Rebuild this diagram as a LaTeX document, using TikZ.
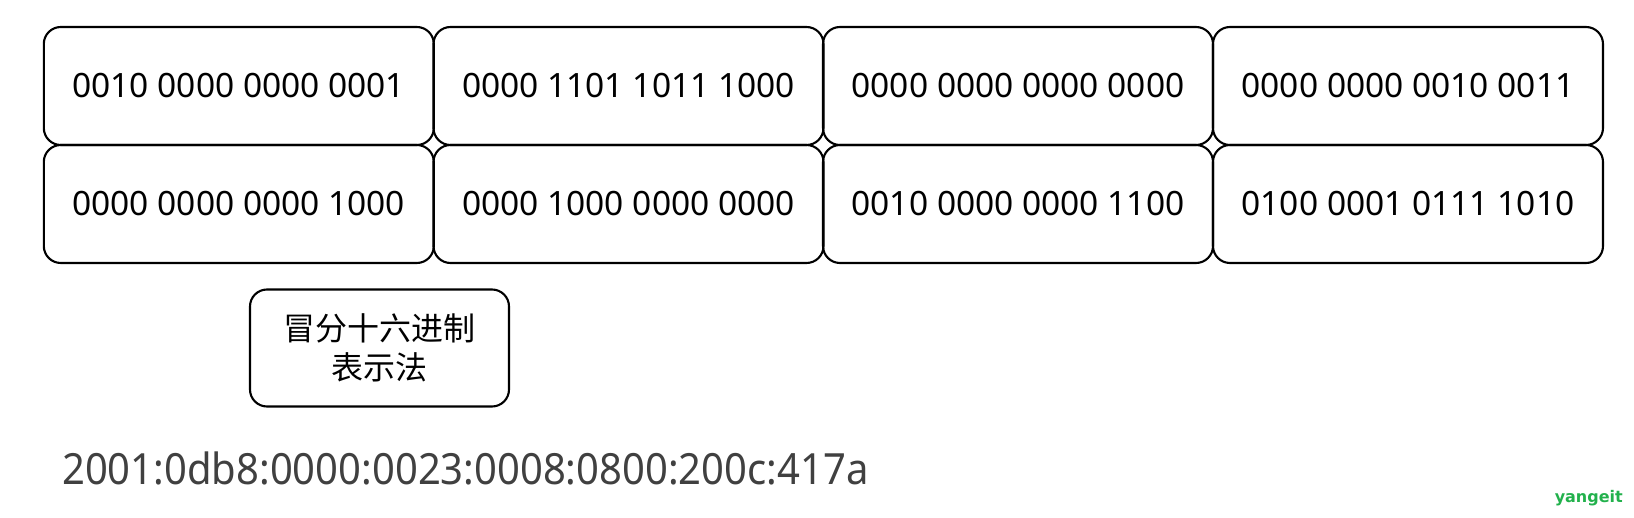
\documentclass[tikz,border=0pt]{standalone}
\usepackage{xcolor}
\usepackage{fontspec}
\setmainfont{Noto Sans}
\newfontfamily\cjkfont{Noto Sans CJK SC}
\newfontfamily\narrowfont[FakeStretch=0.93]{Noto Sans}
\newfontfamily\markfont{DejaVu Sans}
\definecolor{addrgray}{RGB}{64,64,64}
\definecolor{markgreen}{RGB}{34,177,76}

\begin{document}
\begin{tikzpicture}[x=1pt, y=-1pt]
    \tikzstyle{word} = [rectangle, rounded corners=17pt, minimum width=390pt, minimum height=118pt, inner sep=0pt, text centered, draw=black, line width=2.1pt, font=\fontsize{33.5}{40}\selectfont]
    \tikzstyle{label} = [rectangle, rounded corners=17pt, minimum width=259pt, minimum height=117pt, inner sep=0pt, align=center, draw=black, line width=2.1pt, font=\cjkfont\fontsize{32}{39}\selectfont]

    \useasboundingbox (0,0) rectangle (1634,518);

    % First row of 16-bit words
    \node [word] (w1) at (238.8,86) {0010 0000 0000 0001};
    \node [word] (w2) at (628.5,86) {0000 1101 1011 1000};
    \node [word] (w3) at (1018,86) {0000 0000 0000 0000};
    \node [word] (w4) at (1408,86) {0000 0000 0010 0011};

    % Second row of 16-bit words
    \node [word] (w5) at (238.8,204) {0000 0000 0000 1000};
    \node [word] (w6) at (628.5,204) {0000 1000 0000 0000};
    \node [word] (w7) at (1018,204) {0010 0000 0000 1100};
    \node [word] (w8) at (1408,204) {0100 0001 0111 1010};

    % Notation name and the resulting address
    \node [label] (colonhex) at (379.5,348) {冒分十六进制\\表示法};
    \node [anchor=base west, text=addrgray, font=\narrowfont\fontsize{43}{50}\selectfont, inner sep=0pt] (addr) at (62,485) {2001:0db8:0000:0023:0008:0800:200c:417a};

    \node [anchor=base east, text=markgreen, font=\markfont\bfseries\fontsize{16}{20}\selectfont, inner sep=0pt] (mark) at (1623,503) {yangeit};
\end{tikzpicture}
\end{document}
